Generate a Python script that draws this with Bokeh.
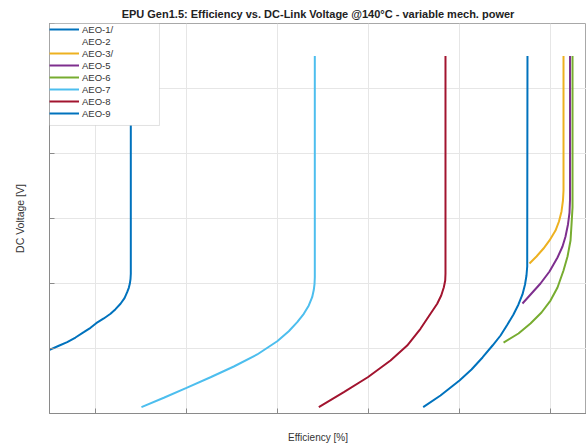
from bokeh.plotting import figure
from bokeh.models import FixedTicker, BoxAnnotation, Legend, LegendItem
from bokeh.embed import file_html
from bokeh.resources import INLINE

# ---- data (efficiency [%] vs DC voltage [V]) ----
series_names = ["AEO-1/", "AEO-2", "AEO-3/", "AEO-5", "AEO-6", "AEO-7", "AEO-8", "AEO-9"]
series_colors = ["#0072BD", "#D95319", "#EDB120", "#7E2F8E", "#77AC30", "#4DBEEE", "#A2142F", "#0072BD"]

aeo1_eff = [90.49, 90.597, 90.689, 90.780, 90.871, 90.945, 91.008, 91.091, 91.165, 91.220,
            91.275, 91.319, 91.348, 91.366, 91.377, 91.385, 91.388, 91.388]
aeo1_vdc = [297.5, 304.2, 309.7, 316.9, 325.1, 331.8, 338.9, 346.2, 353.4, 360.5,
            368.8, 377.4, 386.6, 393.4, 399.5, 407.2, 414.9, 750.0]

aeo2_eff = []
aeo2_vdc = []

aeo3_eff = [95.769, 95.846, 95.923, 95.989, 96.055, 96.093, 96.121, 96.137, 96.143, 96.143]
aeo3_vdc = [430.8, 441.5, 453.8, 466.2, 481.5, 495.4, 510.8, 527.7, 543.1, 750.0]

aeo5_eff = [95.692, 95.791, 95.890, 95.989, 96.077, 96.132, 96.165, 96.192, 96.209, 96.214, 96.214]
aeo5_vdc = [369.2, 384.6, 400.0, 418.5, 440.0, 456.9, 472.3, 490.8, 509.2, 527.7, 750.0]

aeo6_eff = [95.484, 95.648, 95.780, 95.901, 96.000, 96.077, 96.143, 96.187, 96.220, 96.231, 96.242, 96.242]
aeo6_vdc = [309.2, 323.1, 338.5, 355.4, 373.8, 393.8, 420.0, 441.5, 466.2, 490.8, 516.9, 750.0]

aeo7_eff = [91.505, 91.751, 92.000, 92.264, 92.520, 92.777, 92.997, 93.124, 93.217, 93.289,
            93.344, 93.381, 93.399, 93.407, 93.410, 93.410]
aeo7_vdc = [209.7, 224.2, 239.5, 255.8, 272.3, 290.8, 311.2, 326.6, 340.5, 353.4,
            366.2, 378.9, 390.3, 399.5, 409.7, 750.0]

aeo8_eff = [93.454, 93.729, 93.992, 94.242, 94.425, 94.571, 94.681, 94.755, 94.799, 94.828,
            94.843, 94.846, 94.846]
aeo8_vdc = [209.7, 232.8, 255.8, 281.5, 304.6, 330.3, 353.4, 368.8, 381.5, 394.3,
            404.6, 414.9, 750.0]

aeo9_eff = [94.601, 94.791, 95.000, 95.132, 95.253, 95.363, 95.451, 95.527, 95.593, 95.648,
            95.692, 95.720, 95.736, 95.744, 95.747]
aeo9_vdc = [209.7, 227.7, 250.8, 267.7, 286.2, 304.6, 320.0, 336.9, 352.3, 367.7,
            383.1, 398.5, 412.3, 426.2, 750.0]

x_ticks = [91, 92, 93, 94, 95, 96]
y_ticks = [200, 300, 400, 500, 600, 700, 800]
x_lim = (90.4945, 96.3956)
y_lim = (200, 800)
legend_right = 91.703
legend_bottom = 643.1

series_eff = [aeo1_eff, aeo2_eff, aeo3_eff, aeo5_eff, aeo6_eff, aeo7_eff, aeo8_eff, aeo9_eff]
series_vdc = [aeo1_vdc, aeo2_vdc, aeo3_vdc, aeo5_vdc, aeo6_vdc, aeo7_vdc, aeo8_vdc, aeo9_vdc]

FONT = "Liberation Sans"

p = figure(width=586, height=446, output_backend="svg", toolbar_location=None,
           x_range=x_lim, y_range=y_lim,
           min_border_left=49, min_border_right=0, min_border_top=23, min_border_bottom=33,
           title="EPU Gen1.5: Efficiency vs. DC-Link Voltage @140°C - variable mech. power")

p.title.text_font = FONT
p.title.text_font_size = "11px"
p.title.text_font_style = "bold"
p.title.text_color = "#222222"
p.title.align = "center"
p.title.standoff = 7

p.outline_line_color = "#a8a8a8"
p.background_fill_color = "white"
p.border_fill_color = "white"

for ax, ticks in ((p.xaxis[0], x_ticks), (p.yaxis[0], y_ticks)):
    ax.ticker = FixedTicker(ticks=ticks)
    ax.major_label_overrides = {t: "" for t in ticks}
    ax.axis_line_color = "#8a8a8a"
    ax.major_tick_line_color = "#8a8a8a"
    ax.major_tick_in = 5
    ax.major_tick_out = 0
    ax.minor_tick_line_color = None
    ax.major_label_text_font_size = "1px"
    ax.major_label_standoff = 0
    ax.axis_label_text_font = FONT
    ax.axis_label_text_font_style = "normal"
    ax.axis_label_text_color = "#333333"

p.xaxis[0].axis_label = "Efficiency [%]"
p.yaxis[0].axis_label = "DC Voltage [V]"
p.xaxis[0].axis_label_text_font_size = "10px"
p.yaxis[0].axis_label_text_font_size = "10.5px"
p.xaxis[0].axis_label_standoff = 18
p.yaxis[0].axis_label_standoff = 24

p.xgrid.ticker = FixedTicker(ticks=x_ticks)
p.ygrid.ticker = FixedTicker(ticks=y_ticks)
p.grid.grid_line_color = "#e6e6e6"
p.grid.grid_line_width = 1

items = []
for name, col, xs, ys in zip(series_names, series_colors, series_eff, series_vdc):
    r = p.line(xs, ys, line_color=col, line_width=2)
    items.append(LegendItem(label=name, renderers=[r]))

box = BoxAnnotation(left=x_lim[0], right=legend_right, top=y_lim[1], bottom=legend_bottom,
                    fill_color="white", fill_alpha=1.0, line_color="#a0a0a0", line_width=1)
p.add_layout(box)

legend = Legend(items=items, location="top_left", margin=0, padding=3, spacing=0,
                label_height=12, glyph_height=12, glyph_width=30, label_standoff=3,
                label_text_font=FONT, label_text_font_size="9.5px", label_text_color="#333333",
                border_line_color=None, background_fill_alpha=0.0)
p.add_layout(legend)

open("out.html", "w").write(file_html(p, INLINE))
